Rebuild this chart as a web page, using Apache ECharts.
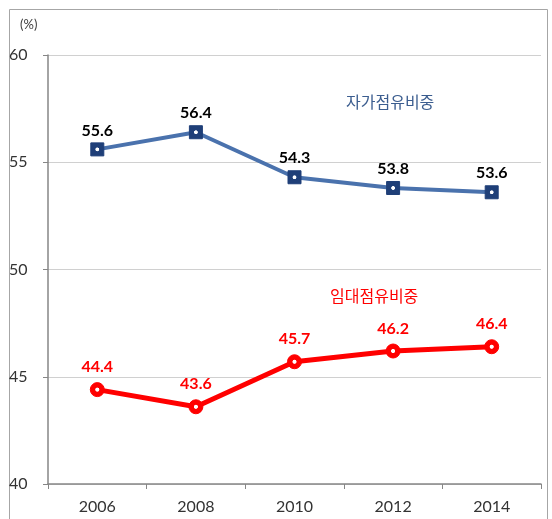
<!DOCTYPE html>
<html><head><meta charset="utf-8">
<script src="https://cdn.jsdelivr.net/npm/echarts@6/dist/echarts.min.js"></script>
<style>html,body{margin:0;padding:0;background:#fff}#c{width:552px;height:519px}</style>
</head><body><div id="c"></div>
<script>
const years = ['2006','2008','2010','2012','2014'];
const ownerShare = [55.6, 56.4, 54.3, 53.8, 53.6];
const renterShare = [44.4, 43.6, 45.7, 46.2, 46.4];
const ownerName = '자가점유비중';
const renterName = '임대점유비중';
const yTicks = [40, 45, 50, 55, 60];

function dotFill(c) {
  return {type: 'radial', x: 0.5, y: 0.5, r: 0.5, colorStops: [
    {offset: 0, color: '#fff'}, {offset: 0.22, color: '#fff'},
    {offset: 0.32, color: c}, {offset: 1, color: c}]};
}

const chart = echarts.init(document.getElementById('c'));
chart.setOption({
  animation: false,
  backgroundColor: '#fff',
  grid: {left: 48, right: 11, top: 55, bottom: 35},
  graphic: [
    {type: 'rect', left: 7, top: 7, shape: {width: 538, height: 520}, style: {fill: 'none', stroke: '#a6a6a6', lineWidth: 1}, silent: true},
    {type: 'text', left: 20, top: 18, style: {text: '(%)', font: '13px Lato, sans-serif', fill: '#404040'}},
    {type: 'text', left: 346, top: 94, style: {text: ownerName, font: '16px "Noto Sans CJK KR"', fill: '#3b5d8f'}},
    {type: 'text', left: 330, top: 288, style: {text: renterName, font: '16px "Noto Sans CJK KR"', fill: '#ff0000'}}
  ],
  xAxis: {
    type: 'category', data: years, boundaryGap: true,
    axisLine: {lineStyle: {color: '#868686', width: 1.5}},
    axisTick: {show: true, length: 5, lineStyle: {color: '#868686'}},
    axisLabel: {color: '#333', fontSize: 16, fontFamily: 'Lato, sans-serif', margin: 15}
  },
  yAxis: {
    type: 'value', min: yTicks[0], max: yTicks[yTicks.length-1], interval: 5,
    axisLine: {show: true, lineStyle: {color: '#868686', width: 1.5}},
    axisTick: {show: true, length: 5, lineStyle: {color: '#868686'}},
    splitLine: {lineStyle: {color: '#d0d0d0', width: 1.2}},
    axisLabel: {color: '#333', fontSize: 16, fontFamily: 'Lato, sans-serif', align: 'left', margin: 39}
  },
  series: [
    {
      name: ownerName, type: 'line', data: ownerShare,
      lineStyle: {color: '#4a72ad', width: 4},
      symbol: 'rect', symbolSize: 13,
      itemStyle: {color: dotFill('#1f3f78'), borderColor: '#1f3f78', borderWidth: 1},
      label: {show: true, position: 'top', distance: 4, color: '#000', fontWeight: 'bold', fontSize: 16, fontFamily: 'Lato, sans-serif', formatter: p => p.value.toFixed(1)}
    },
    {
      name: renterName, type: 'line', data: renterShare,
      lineStyle: {color: '#ff0000', width: 5},
      symbol: 'circle', symbolSize: 14,
      itemStyle: {color: dotFill('#ff0000'), borderColor: '#ff0000', borderWidth: 1},
      label: {show: true, position: 'top', distance: 7, color: '#ff0000', fontWeight: 'bold', fontSize: 16, fontFamily: 'Lato, sans-serif', formatter: p => p.value.toFixed(1)}
    }
  ]
});
</script></body></html>
